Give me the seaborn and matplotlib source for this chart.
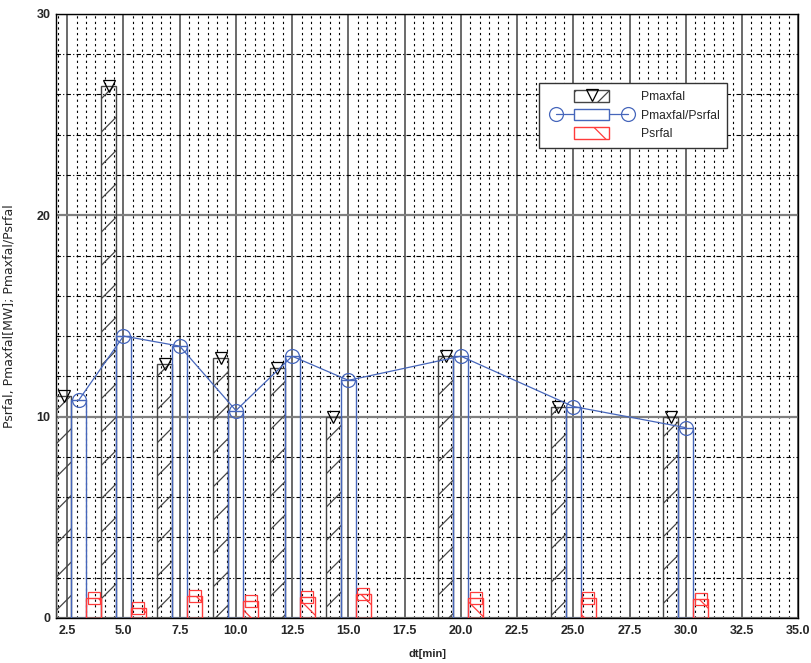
import numpy as np
import pandas as pd
import seaborn as sns
import matplotlib.pyplot as plt
import matplotlib.patches as mpatches
from matplotlib.lines import Line2D
from matplotlib.legend_handler import HandlerLine2D, HandlerPatch, HandlerTuple
from matplotlib.ticker import MultipleLocator

# values
dt = [3.0, 5.0, 7.5, 10.0, 12.5, 15.0, 20.0, 25.0, 30.0]
pmaxfal = [11.0, 26.4, 12.6, 12.9, 12.4, 10.0, 13.0, 10.5, 10.0]
ratio = [10.8, 14.0, 13.5, 10.3, 13.0, 11.8, 13.0, 10.5, 9.45]
psrfal = [1.0, 0.5, 1.1, 0.85, 1.05, 1.2, 1.0, 1.0, 0.93]
series = ['Pmaxfal', 'Pmaxfal/Psrfal', 'Psrfal']
xticks = [2.5, 5.0, 7.5, 10.0, 12.5, 15.0, 17.5, 20.0, 22.5, 25.0, 27.5, 30.0, 32.5, 35.0]
yticks = [0, 10, 20, 30]

black_c = '#454545'
blue_c = '#4666bb'
red_c = '#ff3b3b'

sns.set_theme(style='white')
plt.rcParams['font.family'] = ['Liberation Sans', 'DejaVu Sans']
plt.rcParams['hatch.linewidth'] = 0.9

df = pd.DataFrame({
    'dt': dt * 3,
    'value': pmaxfal + ratio + psrfal,
    'series': np.repeat(series, len(dt)),
})

fig = plt.figure(figsize=(8.12, 6.63), dpi=100)
ax = fig.add_axes([0.069, 0.068, 0.914, 0.911])

sns.barplot(data=df, x='dt', y='value', hue='series', hue_order=series,
            native_scale=True, width=1.0, gap=0, dodge=True, errorbar=None,
            legend=False, ax=ax)

styles = [(black_c, '/'), (blue_c, None), (red_c, '\\')]
for cont, (col, hatch) in zip(ax.containers, styles):
    for p in cont.patches:
        p.set_facecolor('none')
        p.set_edgecolor(col)
        p.set_linewidth(1.0)
        p.set_hatch(hatch)
        p.set_zorder(3)

def bar_tops(cont):
    xs = [p.get_x() + p.get_width() / 2 for p in cont.patches]
    ys = [p.get_height() for p in cont.patches]
    return xs, ys

bx, by = bar_tops(ax.containers[0])
ax.plot(bx, by, ls='none', marker='v', ms=8, mfc='none', mec='black', mew=0.9, zorder=4)
rx, ry = bar_tops(ax.containers[2])
ax.plot(rx, ry, ls='none', marker='s', ms=9, mfc='none', mec=red_c, mew=0.9, zorder=4)

sns.lineplot(x=dt, y=ratio, color=blue_c, lw=0.9, marker='o', ms=10,
             markerfacecolor='none', markeredgecolor=blue_c, mew=0.9,
             ax=ax, zorder=5)

ax.set_xlim(2, 35)
ax.set_ylim(0, 30)
ax.set_xticks(xticks)
ax.set_xticklabels([f'{t:.1f}' for t in xticks])
ax.set_yticks(yticks)
ax.xaxis.set_minor_locator(MultipleLocator(2.5 / 6))
ax.yaxis.set_minor_locator(MultipleLocator(2))

ax.grid(True, which='major', axis='x', color='#505050', lw=1.2, ls='-')
ax.grid(True, which='major', axis='y', color='#808080', lw=1.6, ls='-')
ax.grid(True, which='minor', axis='x', color='black', lw=0.8, ls=(0, (2, 3)))
ax.grid(True, which='minor', axis='y', color='black', lw=0.8, ls=(0, (4, 2, 1, 2)))
ax.set_axisbelow(True)

ax.tick_params(which='both', length=0)
ax.tick_params(axis='x', pad=5, labelsize=9)
ax.tick_params(axis='y', pad=4, labelsize=9)
for lab in ax.get_xticklabels() + ax.get_yticklabels():
    lab.set_fontweight('bold')

for s in ax.spines.values():
    s.set_color('black')
    s.set_linewidth(1.0)

ax.set_xlabel('dt[min]', fontsize=8, fontweight='bold', labelpad=9)
ax.set_ylabel('Psrfal, Pmaxfal[MW]; Pmaxfal/Psrfal', fontsize=9,
              family=['DejaVu Sans'], labelpad=15)

# legend
def small_rect(legend, orig_handle, xdescent, ydescent, width, height, fontsize):
    w = 25
    return mpatches.Rectangle((width / 2 - w / 2 - xdescent, -ydescent), w, height)

r1 = mpatches.Rectangle((0, 0), 1, 1, facecolor='white', edgecolor=black_c, hatch='/')
m1 = Line2D([], [], ls='none', marker='v', ms=8, mfc='none', mec='black', mew=0.9)
l2 = Line2D([], [], color=blue_c, lw=0.9, marker='o', ms=10, mfc='none', mec=blue_c, mew=0.9)
r2 = mpatches.Rectangle((0, 0), 1, 1, facecolor='white', edgecolor=blue_c)
r3 = mpatches.Rectangle((0, 0), 1, 1, facecolor='white', edgecolor=red_c, hatch='\\')

leg = ax.legend([(r1, m1), (l2, r2), (r3,)], series,
                loc='upper right', bbox_to_anchor=(0.904, 0.886), borderaxespad=0,
                handler_map={tuple: HandlerTuple(ndivide=1, pad=0),
                             mpatches.Rectangle: HandlerPatch(patch_func=small_rect),
                             l2: HandlerLine2D(numpoints=2, marker_pad=0.72)},
                handlelength=7.4, handleheight=1.1, handletextpad=0.36,
                labelspacing=0.46, borderpad=0.62, fontsize=8.7,
                fancybox=False, framealpha=1, edgecolor='#333333')
leg.get_frame().set_linewidth(1.0)
leg.set_zorder(10)

fig.savefig('out.png', dpi=100)
